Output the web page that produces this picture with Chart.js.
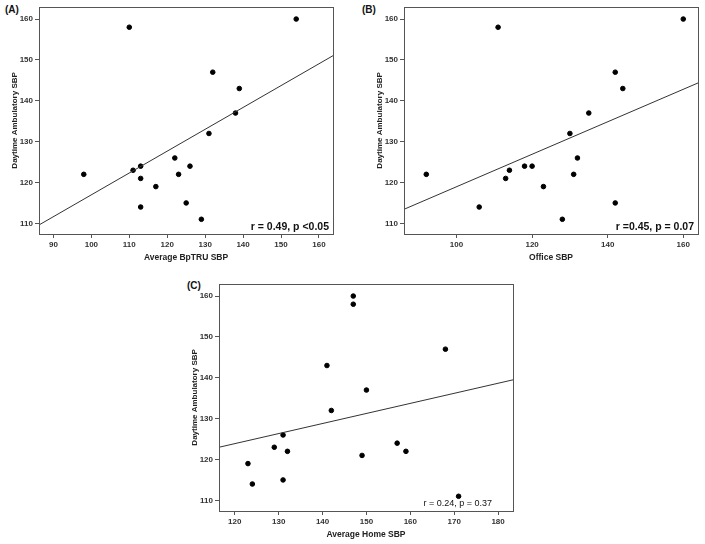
<!DOCTYPE html>
<html lang="en">
<head>
  <meta charset="UTF-8">
  <title>Daytime Ambulatory SBP correlations</title>
  <style>
    body { margin: 0; width: 705px; height: 544px; background: #fff; position: relative; overflow: hidden; }
    .panel { position: absolute; width: 340px; height: 270px; }
    .tag { position: absolute; font: bold 10px "Liberation Sans", Arial, sans-serif; color: #111; }
  </style>
</head>
<body>
  <div class="tag" style="left:5px; top:4px;">(A)</div>
  <div class="tag" style="left:362px; top:4px;">(B)</div>
  <div class="tag" style="left:187px; top:280px;">(C)</div>

  <div class="panel" style="left:0; top:0;"><canvas id="chartA" width="340" height="270"></canvas></div>
  <div class="panel" style="left:365px; top:0;"><canvas id="chartB" width="340" height="270"></canvas></div>
  <div class="panel" style="left:180px; top:277px;"><canvas id="chartC" width="340" height="270"></canvas></div>

  <script src="https://cdn.jsdelivr.net/npm/chart.js"></script>
  <script>
    // Daytime ambulatory SBP (shared y axis label)
    const yTitle = 'Daytime Ambulatory SBP';
    const yTicks = [110, 120, 130, 140, 150, 160];

    // (A) Average BpTRU SBP
    const bptruX = [98, 110, 111, 113, 113, 113, 117, 122, 123, 125, 126, 129, 131, 132, 138, 139, 154];
    const bptruY = [122, 158, 123, 124, 121, 114, 119, 126, 122, 115, 124, 111, 132, 147, 137, 143, 160];
    const bptruFit = [[86, 109.5], [164, 151.2]];
    const bptruTicks = [90, 100, 110, 120, 130, 140, 150, 160];

    // (B) Office SBP
    const officeX = [92, 106, 111, 113, 114, 118, 120, 123, 128, 130, 131, 132, 135, 142, 142, 144, 160];
    const officeY = [122, 114, 158, 121, 123, 124, 124, 119, 111, 132, 122, 126, 137, 147, 115, 143, 160];
    const officeFit = [[86, 113.4], [164, 144.4]];
    const officeTicks = [100, 120, 140, 160];

    // (C) Average Home SBP
    const homeX = [123, 124, 129, 131, 131, 132, 141, 142, 147, 147, 149, 150, 157, 159, 168, 171];
    const homeY = [119, 114, 123, 126, 115, 122, 143, 132, 160, 158, 121, 137, 124, 122, 147, 111];
    const homeFit = [[116.4, 123], [183.4, 139.5]];
    const homeTicks = [120, 130, 140, 150, 160, 170, 180];

    const font = '"Liberation Sans", Arial, sans-serif';

    // frame round the plot + r/p text
    const framePlugin = {
      id: 'frame',
      afterDraw(chart, args, opts) {
        const { ctx, chartArea: a } = chart;
        ctx.save();
        ctx.strokeStyle = '#555';
        ctx.lineWidth = 1;
        ctx.strokeRect(Math.round(a.left) + 0.5, Math.round(a.top) + 0.5,
          Math.round(a.right - a.left), Math.round(a.bottom - a.top));
        ctx.fillStyle = '#111';
        ctx.font = (opts.bold ? 'bold ' : '') + opts.size + 'px ' + font;
        ctx.textAlign = 'right';
        ctx.textBaseline = 'alphabetic';
        ctx.fillText(opts.text, a.right - opts.dx, a.bottom - opts.dy);
        ctx.restore();
      }
    };

    function makeChart(id, xs, ys, fit, xTicks, xMin, xMax, xTitle, stat) {
      const pts = xs.map((x, i) => ({ x: x, y: ys[i] }));
      const line = fit.map(p => ({ x: p[0], y: p[1] }));
      return new Chart(document.getElementById(id), {
        type: 'scatter',
        data: {
          datasets: [
            { data: line, showLine: true, borderColor: '#333', borderWidth: 1, pointRadius: 0 },
            { data: pts, backgroundColor: '#000', borderColor: '#000', pointRadius: 2.3 }
          ]
        },
        options: {
          responsive: false,
          animation: false,
          layout: { padding: { left: 10, top: 5, right: 7, bottom: 7 } },
          plugins: {
            legend: { display: false },
            tooltip: { enabled: false },
            frame: stat
          },
          scales: {
            x: {
              type: 'linear', min: xMin, max: xMax,
              afterBuildTicks: s => { s.ticks = xTicks.map(v => ({ value: v })); },
              afterFit: s => { s.height = 29; },
              grid: { drawOnChartArea: false, color: '#555', tickLength: 4 },
              border: { display: false },
              ticks: { color: '#333', padding: 2, font: { family: font, size: 8, weight: 'bold' } },
              title: { display: true, text: xTitle, color: '#222', padding: 0, font: { family: font, size: 8.5, weight: 'bold' } }
            },
            y: {
              type: 'linear', min: 107.4, max: 163,
              afterBuildTicks: s => { s.ticks = yTicks.map(v => ({ value: v })); },
              afterFit: s => { s.width = 29; },
              grid: { drawOnChartArea: false, color: '#555', tickLength: 4 },
              border: { display: false },
              ticks: { color: '#333', padding: 2, font: { family: font, size: 8, weight: 'bold' } },
              title: { display: true, text: yTitle, color: '#222', padding: 0, font: { family: font, size: 8, weight: 'bold' } }
            }
          }
        },
        plugins: [framePlugin]
      });
    }

    makeChart('chartA', bptruX, bptruY, bptruFit, bptruTicks, 86.2, 163.7, 'Average BpTRU SBP',
      { text: 'r = 0.49, p <0.05', bold: true, size: 10.5, dx: 4, dy: 4 });
    makeChart('chartB', officeX, officeY, officeFit, officeTicks, 86.1, 163.9, 'Office SBP',
      { text: 'r =0.45, p = 0.07', bold: true, size: 10.5, dx: 4, dy: 4 });
    makeChart('chartC', homeX, homeY, homeFit, homeTicks, 116.4, 183.4, 'Average Home SBP',
      { text: 'r = 0.24, p = 0.37', bold: false, size: 9, dx: 21, dy: 5 });
  </script>
</body>
</html>
